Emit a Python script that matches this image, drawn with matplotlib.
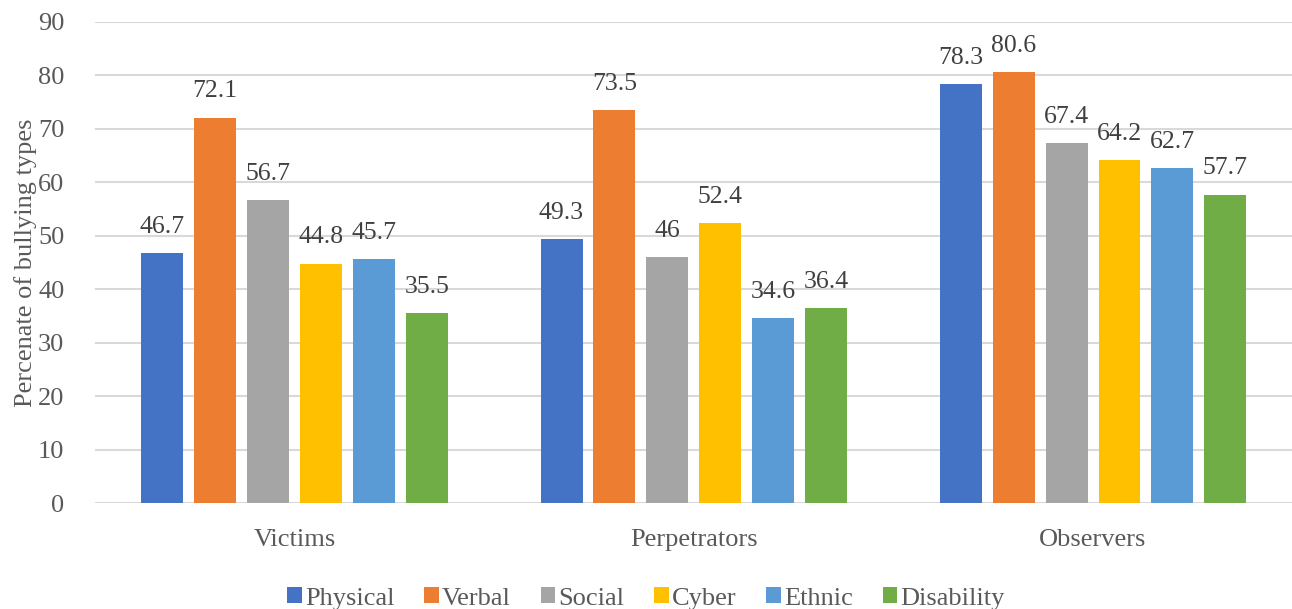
import numpy as np
import matplotlib
matplotlib.use("Agg")
import matplotlib.pyplot as plt

# ---------------- data ----------------
groups = ["Victims", "Perpetrators", "Observers"]
types = ["Physical", "Verbal", "Social", "Cyber", "Ethnic", "Disability"]
physical = [46.7, 49.3, 78.3]
verbal = [72.1, 73.5, 80.6]
social = [56.7, 46, 67.4]
cyber = [44.8, 52.4, 64.2]
ethnic = [45.7, 34.6, 62.7]
disability = [35.5, 36.4, 57.7]
colors = ["#4472C4", "#ED7D31", "#A5A5A5", "#FFC000", "#5B9BD5", "#70AD47"]
# --------------------------------------

series = [physical, verbal, social, cyber, ethnic, disability]
txt = "#595959"
plt.rcParams["font.family"] = ["Liberation Serif", "DejaVu Serif"]

fig = plt.figure(figsize=(12.92, 6.09), dpi=100)
ax = fig.add_axes([0.0735, 0.174, 0.927, 0.79])

x = np.arange(len(groups))
step = 0.1325
width = 0.105
for i, (vals, name, c) in enumerate(zip(series, types, colors)):
    pos = x + (i - 2.5) * step
    bars = ax.bar(pos, vals, width=width, color=c, label=name, zorder=3)
    for b, v in zip(bars, vals):
        ax.annotate(f"{v:g}", (b.get_x() + b.get_width() / 2, v),
                    xytext=(0, 14.5), textcoords="offset points",
                    ha="center", va="baseline", fontsize=18.5, color="#404040")

ax.set_xlim(-0.5, 2.5)
ax.set_ylim(0, 90)
ax.set_yticks(range(0, 91, 10))
ax.set_xticks(x)
ax.set_xticklabels(groups)
ax.grid(axis="y", color="#d9d9d9", linewidth=1.5, zorder=0)
for s in ax.spines.values():
    s.set_visible(False)
ax.tick_params(length=0, labelsize=19, colors=txt)
ax.tick_params(axis="x", pad=19)
ax.tick_params(axis="y", pad=22)
ax.set_ylabel("Percenate of bullying types", fontsize=19, color=txt, labelpad=1)

leg = fig.legend(loc="lower center", ncol=6, frameon=False, fontsize=19,
                 bbox_to_anchor=(0.5, -0.04), handlelength=0.55, handleheight=0.55,
                 handletextpad=0.12, columnspacing=1.13)
for t in leg.get_texts():
    t.set_color(txt)

fig.savefig("out.png", dpi=100)
